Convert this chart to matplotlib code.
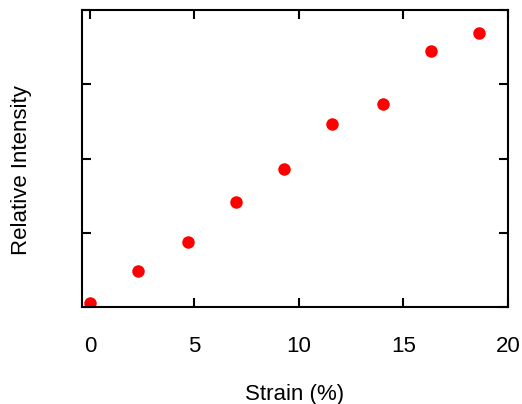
import matplotlib
matplotlib.use("Agg")
import matplotlib.pyplot as plt

plt.rcParams['font.family'] = ['Liberation Sans', 'DejaVu Sans']

# strain (%) and relative intensity (arbitrary units)
strain = [0.0, 2.3, 4.7, 7.0, 9.3, 11.6, 14.0, 16.3, 18.6]
intensity = [0.06, 0.49, 0.87, 1.41, 1.86, 2.47, 2.73, 3.45, 3.69]

xticks = [0, 5, 10, 15, 20]
yticks = [0, 1, 2, 3, 4]

fig = plt.figure(figsize=(5.22, 4.04), dpi=100)
ax = fig.add_axes([0.157, 0.240, 0.816, 0.735])

ax.plot(strain, intensity, 'o', color='red', markersize=9, markeredgewidth=0)

ax.set_xlim(-0.38, 20)
ax.set_ylim(0, 4)
ax.set_xticks(xticks)
ax.set_yticks(yticks)
ax.set_yticklabels([])
ax.tick_params(direction='in', top=True, right=True, length=6.5, width=1.5,
               labelsize=16, pad=21)
for s in ax.spines.values():
    s.set_linewidth(1.5)

ax.set_xlabel('Strain (%)', fontsize=16, labelpad=19)
ax.set_ylabel('Relative Intensity', fontsize=16)
ax.yaxis.set_label_coords(-0.118, 0.46)

fig.savefig('out.png', dpi=100)
